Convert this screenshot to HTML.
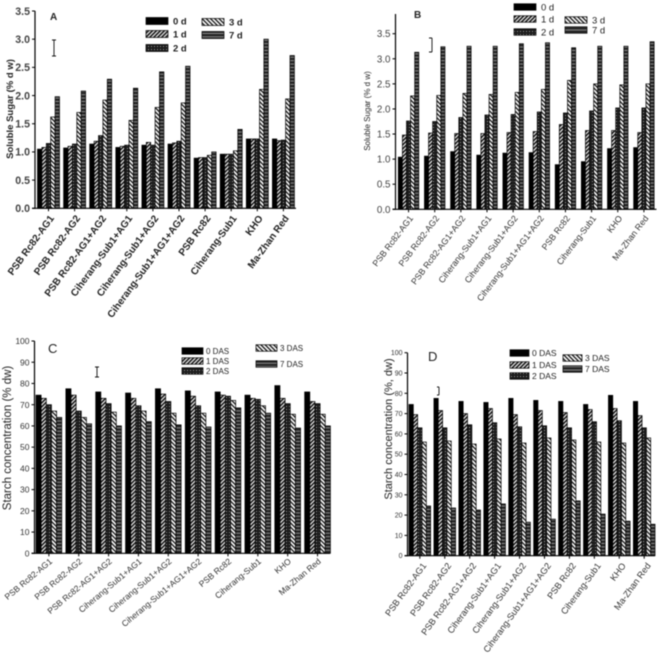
<!DOCTYPE html>
<html lang="en">
<head>
<meta charset="utf-8">
<title>Soluble sugar and starch concentration charts</title>
<style>
html,body{margin:0;padding:0;background:#fff;}
#figure{display:block;width:658px;height:656px;filter:blur(0.4px);}
text{font-family:"Liberation Sans",sans-serif;}
</style>
</head>
<body>
<svg id="figure" xmlns="http://www.w3.org/2000/svg" width="658" height="656" viewBox="0 0 658 656">
<defs>
<pattern id="fill1" width="2.8" height="2.8" patternUnits="userSpaceOnUse" patternTransform="rotate(45)">
<rect width="2.8" height="2.8" fill="#e8e8e8"/><rect width="1.5" height="2.8" fill="#111"/>
</pattern>
<pattern id="fill2" width="3" height="3" patternUnits="userSpaceOnUse">
<rect width="3" height="3" fill="#1c1c1c"/><rect x="1" y="1" width="1" height="1" fill="#999"/>
</pattern>
<pattern id="fill3" width="3" height="3" patternUnits="userSpaceOnUse" patternTransform="rotate(-45)">
<rect width="3" height="3" fill="#fff"/><rect width="1.3" height="3" fill="#111"/>
</pattern>
<pattern id="fill7" width="4" height="3.4" patternUnits="userSpaceOnUse">
<rect width="4" height="3.4" fill="#222"/><rect y="2.3" width="4" height="1.1" fill="#888"/>
</pattern>
</defs>
</svg>
<script>
const categories = ["PSB Rc82-AG1","PSB Rc82-AG2","PSB Rc82-AG1+AG2","Ciherang-Sub1+AG1","Ciherang-Sub1+AG2","Ciherang-Sub1+AG1+AG2","PSB Rc82","Ciherang-Sub1","KHO","Ma-Zhan Red"];

const sugarTicks = ["0.0","0.5","1.0","1.5","2.0","2.5","3.0","3.5"];
const starchTicks = ["0","10","20","30","40","50","60","70","80","90","100"];

const sugarLegend = ["0 d","1 d","2 d","3 d","7 d"];
const starchLegend = ["0 DAS","1 DAS","2 DAS","3 DAS","7 DAS"];

const panelADay0 = [1.05,1.07,1.14,1.08,1.12,1.14,0.89,0.96,1.23,1.23];
const panelADay1 = [1.08,1.10,1.19,1.10,1.17,1.16,0.90,0.96,1.23,1.20];
const panelADay2 = [1.15,1.14,1.29,1.12,1.12,1.19,0.90,0.96,1.23,1.21];
const panelADay3 = [1.62,1.70,1.92,1.56,1.79,1.87,0.94,1.02,2.11,1.94];
const panelADay7 = [1.98,2.08,2.29,2.13,2.42,2.52,1.00,1.40,3.00,2.71];

const panelBDay0 = [1.04,1.06,1.15,1.08,1.12,1.13,0.89,0.95,1.21,1.23];
const panelBDay1 = [1.48,1.52,1.51,1.51,1.53,1.55,1.69,1.57,1.57,1.53];
const panelBDay2 = [1.76,1.75,1.83,1.88,1.89,1.94,1.92,1.96,2.02,2.02];
const panelBDay3 = [2.26,2.27,2.31,2.29,2.33,2.39,2.57,2.50,2.48,2.50];
const panelBDay7 = [3.13,3.24,3.25,3.25,3.30,3.32,3.22,3.25,3.25,3.34];

const panelCDay0 = [74.5,77.5,76,75.5,77.5,76.5,76,74.5,79,76];
const panelCDay1 = [73,74.5,73,73,75,74,74.5,73,73,71.5];
const panelCDay2 = [70,67,70.5,69.5,71.5,69.5,74,72.5,70.5,70.5];
const panelCDay3 = [67,64,66.5,67,66,66,72,69.5,65.5,65.5];
const panelCDay7 = [64,61,60,62,60.5,59.5,68.5,66,59,60];

const panelDDay0 = [74.5,77.5,76,75.5,77.5,76.5,76,74.5,79,76];
const panelDDay1 = [69.5,71.5,70,72.5,69.5,71.5,70.5,72,72.5,69];
const panelDDay2 = [63,63,64.5,65.5,63.5,64,63,66,66.5,63];
const panelDDay3 = [56,56.5,55,57.5,55.5,58,57,56,55.5,58];
const panelDDay7 = [24.5,23.5,22.5,25.5,16.5,18,27,20.5,17,15.5];

const fills = ["#000","url(#fill1)","url(#fill2)","url(#fill3)","url(#fill7)"];
const NS = "http://www.w3.org/2000/svg";
const root = document.getElementById("figure");

function make(parent, tag, attrs, content) {
  const node = document.createElementNS(NS, tag);
  for (const key in attrs) node.setAttribute(key, attrs[key]);
  if (content !== undefined) node.textContent = content;
  parent.appendChild(node);
  return node;
}

function drawPanel(p) {
  const g = make(root, "g", {});
  
  
  const yScale = v => p.y0 - (v / p.max) * (p.y0 - p.yTop);
  const xScale = (groupIndex, seriesIndex) => p.barStart + groupIndex * p.pitch + seriesIndex * p.barW;

  p.series.forEach((values, s) => {
    values.forEach((value, i) => {
      const bar = make(g, "rect", {
        x: xScale(i, s), y: yScale(value), width: p.barW,
        height: Math.max(0, p.y0 - yScale(value)),
        fill: fills[s], stroke: "#000", "stroke-width": 0.7
      });
      
      
    });
  });

  const yAxis = make(g, "line", {x1: p.axisX, x2: p.axisX, y1: p.axisTop, y2: p.y0 + 0.5, stroke: "#000", "stroke-width": 1.2});
  
  
  const xAxis = make(g, "line", {x1: p.axisX - 3, x2: p.axisEnd, y1: p.y0, y2: p.y0, stroke: "#000", "stroke-width": 1.2});
  
  

  p.ticks.forEach(label => {
    const y = yScale(parseFloat(label));
    const mark = make(g, "line", {x1: p.axisX - 3, x2: p.axisX, y1: y, y2: y, stroke: "#000", "stroke-width": 1});
    
    
    const tick = make(g, "text", {
      x: p.axisX - 5, y: y + p.tickSize * 0.36, "text-anchor": "end",
      "font-size": p.tickSize, "font-weight": p.tickWeight, fill: p.tickColor
    }, label);
    
    
  });

  categories.forEach((name, i) => {
    const cx = xScale(i, 2.5);
    const mark = make(g, "line", {x1: cx, x2: cx, y1: p.y0, y2: p.y0 + 3, stroke: "#000", "stroke-width": 1});
    
    
    const ax = cx + p.labelDx;
    const ay = p.y0 + p.labelDy;
    const label = make(g, "text", {
      x: ax, y: ay, "text-anchor": "end", "font-size": p.labelSize,
      "font-weight": p.labelWeight, fill: p.labelColor,
      transform: "rotate(" + (-p.labelAngle) + " " + ax + " " + ay + ")"
    }, name);
    
    
  });

  const tx = p.titleX, ty = p.titleY;
  const title = make(g, "text", {
    x: tx, y: ty, "text-anchor": "middle", "font-size": p.titleSize,
    "font-weight": p.titleWeight, fill: "#222",
    transform: "rotate(-90 " + tx + " " + ty + ")"
  }, p.title);
  
  

  const letter = make(g, "text", {
    x: p.letterX, y: p.letterY, "font-size": p.letterSize,
    "font-weight": p.letterWeight, fill: "#222"
  }, p.letter);
  
  

  p.legend.forEach((name, s) => {
    const col = s < 3 ? p.legendCol1 : p.legendCol2;
    const cy = p.legendRows[s];
    const swatch = make(g, "rect", {
      x: col.x, y: cy - p.swatchH / 2, width: p.swatchW, height: p.swatchH,
      fill: fills[s], stroke: "#000", "stroke-width": 0.7
    });
    
    
    const entry = make(g, "text", {
      x: col.x + p.swatchW + p.legendGap, y: cy + p.legendSize * 0.36,
      "font-size": p.legendSize, "font-weight": p.legendWeight, fill: "#222"
    }, name);
    
    
  });

  const e = p.errorBar;
  const err = make(g, "path", {
    d: "M" + e.x + " " + e.y1 + "V" + e.y2 + "M" + (e.x - e.left) + " " + e.y1 + "H" + (e.x + e.right) + "M" + (e.x - e.left) + " " + e.y2 + "H" + (e.x + e.right),
    fill: "none", stroke: "#111", "stroke-width": 0.9
  });
  
  
}

drawPanel({
  letter: "A", series: [panelADay0,panelADay1,panelADay2,panelADay3,panelADay7],
  ticks: sugarTicks, legend: sugarLegend, max: 3.5,
  axisX: 35, axisTop: 11, axisEnd: 296, y0: 208.3, yTop: 11,
  barStart: 37.5, pitch: 26.1, barW: 4.4,
  tickSize: 10.6, tickWeight: "bold", tickColor: "#444",
  labelSize: 10, labelWeight: "bold", labelColor: "#222", labelAngle: 54, labelDx: 6, labelDy: 10,
  title: "Soluble Sugar (% d w)", titleX: 13, titleY: 109, titleSize: 9.5, titleWeight: "bold",
  letterX: 50, letterY: 20, letterSize: 10, letterWeight: "bold",
  legendCol1: {x: 146}, legendCol2: {x: 202}, legendRows: [21,34,48,22,35],
  swatchW: 22, swatchH: 7, legendGap: 5, legendSize: 9.5, legendWeight: "bold",
  errorBar: {x: 54, y1: 40, y2: 56, left: 2, right: 2}
});

drawPanel({
  letter: "B", series: [panelBDay0,panelBDay1,panelBDay2,panelBDay3,panelBDay7],
  ticks: sugarTicks, legend: sugarLegend, max: 3.5,
  axisX: 395.5, axisTop: 14, axisEnd: 656.5, y0: 209.3, yTop: 33.7,
  barStart: 398.3, pitch: 26.15, barW: 4.1,
  tickSize: 9.8, tickWeight: "normal", tickColor: "#444",
  labelSize: 8.8, labelWeight: "normal", labelColor: "#333", labelAngle: 53, labelDx: 5, labelDy: 9,
  title: "Soluble Sugar (% d w)", titleX: 370, titleY: 111, titleSize: 8, titleWeight: "normal",
  letterX: 414, letterY: 18, letterSize: 10, letterWeight: "bold",
  legendCol1: {x: 514}, legendCol2: {x: 565}, legendRows: [7,19,32,20,30],
  swatchW: 22, swatchH: 6.5, legendGap: 5, legendSize: 9.5, legendWeight: "normal",
  errorBar: {x: 432, y1: 38, y2: 52, left: 3, right: 0}
});

drawPanel({
  letter: "C", series: [panelCDay0,panelCDay1,panelCDay2,panelCDay3,panelCDay7],
  ticks: starchTicks, legend: starchLegend, max: 100,
  axisX: 34.5, axisTop: 341, axisEnd: 330, y0: 553.3, yTop: 341,
  barStart: 36, pitch: 29.85, barW: 5.15,
  tickSize: 8.5, tickWeight: "normal", tickColor: "#333",
  labelSize: 8.5, labelWeight: "normal", labelColor: "#333", labelAngle: 40, labelDx: 4, labelDy: 9,
  title: "Starch concentration (% dw)", titleX: 11, titleY: 438, titleSize: 11.5, titleWeight: "normal",
  letterX: 48, letterY: 353, letterSize: 13, letterWeight: "normal",
  legendCol1: {x: 182}, legendCol2: {x: 256}, legendRows: [351,361,371,348,364],
  swatchW: 21, swatchH: 6.5, legendGap: 3, legendSize: 8, legendWeight: "normal",
  errorBar: {x: 97, y1: 367, y2: 377, left: 2, right: 2}
});

drawPanel({
  letter: "D", series: [panelDDay0,panelDDay1,panelDDay2,panelDDay3,panelDDay7],
  ticks: starchTicks, legend: starchLegend, max: 100,
  axisX: 407.5, axisTop: 352.7, axisEnd: 655, y0: 555.7, yTop: 352.7,
  barStart: 409, pitch: 24.93, barW: 4.33,
  tickSize: 7, tickWeight: "normal", tickColor: "#333",
  labelSize: 9.1, labelWeight: "normal", labelColor: "#333", labelAngle: 54, labelDx: 7, labelDy: 10,
  title: "Starch concentration (%, dw)", titleX: 392, titleY: 429, titleSize: 11, titleWeight: "normal",
  letterX: 428, letterY: 361, letterSize: 13, letterWeight: "normal",
  legendCol1: {x: 510}, legendCol2: {x: 563}, legendRows: [353,365,376,358,369],
  swatchW: 19, swatchH: 6.5, legendGap: 3, legendSize: 8.5, legendWeight: "normal",
  errorBar: {x: 439, y1: 387, y2: 395, left: 2, right: 0}
});
</script>
</body>
</html>
